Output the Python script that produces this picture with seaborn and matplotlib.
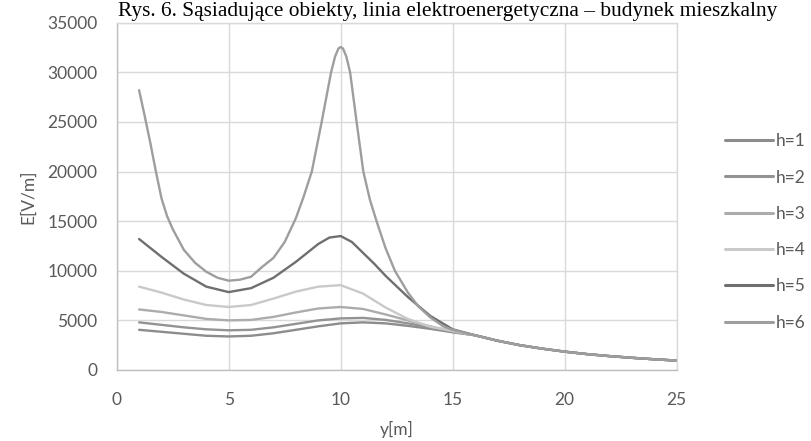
import numpy as np
import pandas as pd
import matplotlib
matplotlib.use("Agg")
import matplotlib.pyplot as plt
from matplotlib.lines import Line2D
import seaborn as sns

title = "Rys. 6. Sąsiadujące obiekty, linia elektroenergetyczna – budynek mieszkalny"
series_names = ["h=1", "h=2", "h=3", "h=4", "h=5", "h=6"]

y_pos = list(range(1, 26))
y_tail = list(range(16, 26))
tail = [3500, 2950, 2500, 2150, 1850, 1600, 1400, 1230, 1080, 950]  # y = 16..25

e_h1 = [4050, 3850, 3650, 3450, 3380, 3450, 3700, 4050, 4400, 4700, 4800, 4700, 4450, 4150, 3800] + tail
e_h2 = [4800, 4550, 4300, 4100, 4000, 4050, 4300, 4650, 5000, 5200, 5250, 5050, 4700, 4300, 3850] + tail
e_h3 = [6100, 5850, 5500, 5150, 5000, 5050, 5350, 5800, 6200, 6350, 6150, 5600, 5000, 4400, 3900] + tail
e_h4 = [8400, 7800, 7100, 6550, 6350, 6550, 7200, 7900, 8400, 8550, 7700, 6300, 5150, 4350, 3950] + tail

y_h5 = [1, 2, 3, 4, 5, 6, 7, 8, 9, 9.5, 10, 10.5, 11, 11.5, 12, 13, 14, 15] + y_tail
e_h5 = [13200, 11400, 9700, 8400, 7850, 8250, 9300, 10900, 12700, 13350, 13500, 12900,
        11800, 10700, 9500, 7350, 5450, 4100] + tail

y_h6 = [1, 1.25, 1.5, 1.75, 2, 2.25, 2.5, 3, 3.5, 4, 4.5, 5, 5.5, 6, 6.5, 7, 7.5, 8,
        8.35, 8.71, 9.15, 9.57, 9.75, 9.9, 10, 10.1, 10.25, 10.42, 10.71, 11.01, 11.3, 11.6, 12,
        12.42, 13, 13.47, 14, 14.58, 15] + y_tail
e_h6 = [28200, 25600, 22900, 20000, 17300, 15500, 14200, 12100, 10800, 9900, 9300, 9000,
        9100, 9400, 10400, 11300, 12900, 15300, 17500, 20000, 25000, 30000, 31600, 32400, 32550,
        32400, 31600, 30000, 25000, 20000, 17200, 15000, 12300, 10000, 7800, 6400, 5300, 4400,
        4050] + tail

colors = ["#8c8c8c", "#939393", "#acacac", "#c9c9c9", "#6f6f6f", "#9e9e9e"]

frames = []
for name, ys, es in [("h=1", y_pos, e_h1), ("h=2", y_pos, e_h2), ("h=3", y_pos, e_h3),
                     ("h=4", y_pos, e_h4), ("h=5", y_h5, e_h5), ("h=6", y_h6, e_h6)]:
    frames.append(pd.DataFrame({"y": ys, "E": es, "h": name}))
df = pd.concat(frames, ignore_index=True)

sns.set_theme(style="white")
plt.rcParams["font.family"] = ["Lato", "DejaVu Sans"]

fig = plt.figure(figsize=(8.11, 4.41), dpi=100)
ax = fig.add_axes([116.7 / 811, 1 - 370 / 441, 560 / 811, (370 - 22.7) / 441])

palette = dict(zip(series_names, colors))
sns.lineplot(data=df, x="y", y="E", hue="h", hue_order=series_names,
             palette=palette, estimator=None, sort=True,
             linewidth=1.7, ax=ax, legend=False)

ax.set_xlim(0, 25)
ax.set_ylim(0, 35000)
ax.set_xticks([0, 5, 10, 15, 20, 25])
ax.set_yticks(np.arange(0, 35001, 5000))
ax.grid(True, color="#d9d9d9", linewidth=1.0)
ax.set_axisbelow(True)
for side in ["top", "right"]:
    ax.spines[side].set_color("#d9d9d9")
    ax.spines[side].set_linewidth(1.0)
for side in ["left", "bottom"]:
    ax.spines[side].set_color("#bfbfbf")
    ax.spines[side].set_linewidth(1.0)

ax.tick_params(axis="both", length=0, labelsize=12.5, labelcolor="#595959")
ax.tick_params(axis="y", pad=14)
ax.tick_params(axis="x", pad=16)
ax.set_xlabel("y[m]", fontsize=12.5, color="#595959", labelpad=9)
ax.set_ylabel("E[V/m]", fontsize=12.5, color="#595959", labelpad=8)

handles = [Line2D([0, 1], [0, 0], color=palette[n], linewidth=2.2) for n in series_names]
leg = fig.legend(handles, series_names, loc="center left", bbox_to_anchor=(725 / 811, 1 - 232 / 441),
                 frameon=False, fontsize=12.5,
                 handlelength=2.75, handletextpad=0.2, labelspacing=1.17,
                 borderpad=0, borderaxespad=0)
for t in leg.get_texts():
    t.set_color("#595959")

fig.text(448 / 811, 1 - 16 / 441, title, ha="center", va="baseline",
         fontsize=15.4, family=["Liberation Serif", "DejaVu Serif"], color="#000000")

fig.savefig("out.png", dpi=100)
